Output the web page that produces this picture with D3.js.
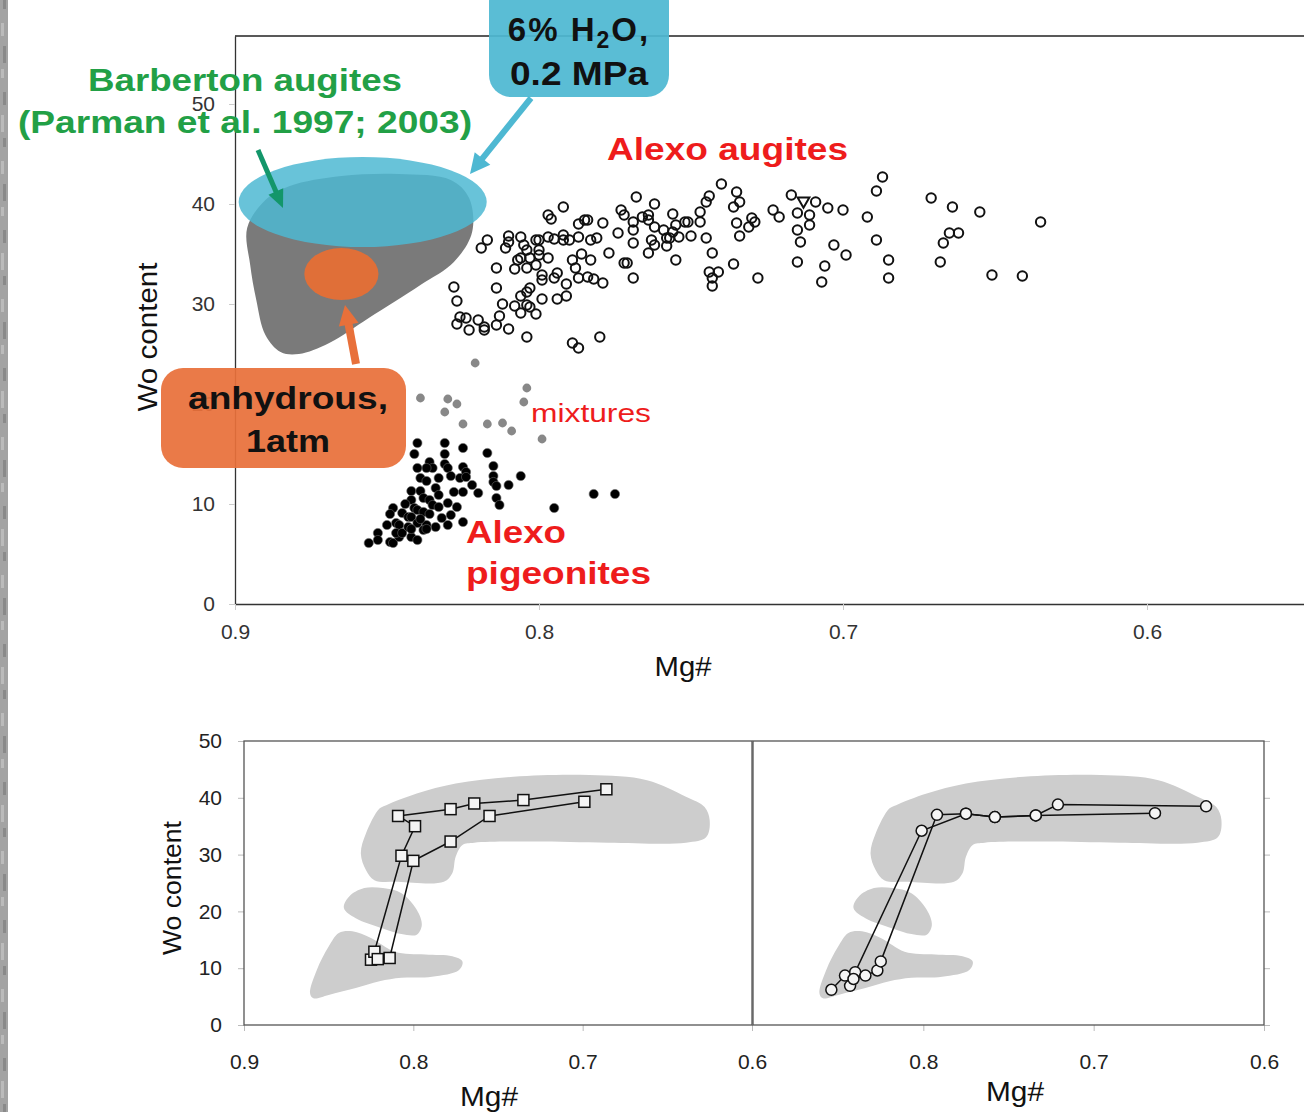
<!DOCTYPE html>
<html><head><meta charset="utf-8">
<script src="https://cdn.jsdelivr.net/npm/d3@7"></script>
<style>html,body{margin:0;padding:0;background:#fff;}svg{display:block;}</style>
</head><body>
<script>
// ---------- DATA ----------
const augites = [
[0.768,40.7],[0.792,39.7],[0.797,38.9],[0.796,38.5],[0.787,38.0],[0.785,38.4],[0.784,38.4],[0.779,38.1],[0.773,39.4],[0.772,38.9],[0.769,38.2],[0.769,37.4],[0.774,37.1],[0.769,36.1],
[0.817,36.4],[0.819,35.6],[0.810,36.8],[0.810,36.2],[0.811,35.6],[0.806,36.7],[0.805,35.9],[0.801,36.4],[0.800,36.4],[0.797,36.7],[0.795,36.5],[0.792,36.9],[0.792,36.4],[0.790,36.4],[0.787,36.7],[0.783,36.4],[0.781,36.6],
[0.804,35.4],[0.800,35.4],[0.806,34.6],[0.807,34.4],[0.803,34.6],[0.800,34.9],[0.797,34.6],[0.814,33.6],[0.808,33.5],[0.804,33.6],[0.801,33.9],[0.799,32.9],[0.799,32.4],[0.795,32.6],[0.794,33.1],[0.789,34.4],[0.786,35.0],[0.783,34.4],[0.788,33.6],[0.787,32.6],[0.784,32.7],[0.782,32.5],[0.779,32.1],[0.777,35.1],[0.771,34.1],[0.769,32.6],
[0.828,31.7],[0.814,31.6],[0.803,31.6],[0.804,31.2],[0.791,32.0],[0.827,30.3],[0.806,30.8],[0.799,30.5],[0.794,30.5],[0.791,30.8],[0.812,30.0],[0.808,29.8],[0.804,29.9],[0.803,29.7],[0.806,29.1],[0.801,29.0],[0.826,28.7],[0.824,28.6],[0.827,28.0],[0.820,28.4],[0.813,28.8],[0.823,27.4],[0.818,27.4],[0.818,27.7],[0.814,27.9],[0.810,27.5],[0.804,26.7],[0.789,26.1],[0.787,25.6],[0.780,26.7],
[0.740,42.0],[0.735,41.2],[0.734,40.2],[0.736,39.7],[0.744,40.8],[0.745,40.2],[0.747,39.2],[0.762,40.0],[0.766,38.7],[0.764,38.9],[0.764,38.4],[0.762,37.7],[0.759,37.4],[0.756,39.0],[0.755,37.9],[0.756,37.2],[0.752,38.2],[0.751,38.2],[0.747,38.2],[0.763,36.4],[0.762,35.9],[0.758,36.6],[0.758,35.8],[0.757,36.6],[0.754,36.7],[0.750,36.8],[0.745,36.6],[0.764,35.1],[0.772,34.1],[0.755,34.4],[0.743,35.1],[0.744,33.2],[0.741,33.2],[0.743,32.6],[0.743,31.8],[0.736,34.0],[0.728,32.6],[0.735,38.1],[0.734,36.8],[0.731,37.7],[0.730,38.6],[0.729,38.2],[0.723,39.4],[0.721,38.7],[0.717,40.9],[0.709,40.2],[0.715,39.1],[0.711,38.9],[0.711,37.9],[0.715,37.4],[0.714,36.2],[0.715,34.2],[0.705,39.6],[0.703,35.9],[0.706,33.8],[0.707,32.2],
[0.687,42.7],[0.689,41.3],[0.700,39.4],[0.692,38.7],[0.671,40.6],[0.689,36.4],[0.699,34.9],[0.685,34.4],[0.685,32.6],[0.668,34.2],[0.664,39.7],[0.655,39.2],[0.665,37.1],[0.662,37.1],[0.667,36.1],[0.635,38.2],[0.651,32.9],[0.641,32.8]
];
const augiteTriangles = [[0.713,40.3]];
const pigeonites = [
[0.840,16.1],[0.831,16.1],[0.825,15.6],[0.817,15.1],[0.841,15.0],[0.831,15.0],[0.836,14.2],[0.835,13.6],[0.837,13.6],[0.840,13.6],[0.831,14.0],[0.830,13.6],[0.825,13.7],[0.824,13.2],[0.815,13.8],
[0.839,12.6],[0.837,12.3],[0.833,12.6],[0.829,12.8],[0.826,12.6],[0.824,12.7],[0.815,12.8],[0.815,12.2],[0.814,11.8],[0.806,12.8],[0.810,11.9],[0.822,11.9],[0.820,11.1],[0.828,11.2],[0.825,11.2],[0.834,11.6],[0.833,10.9],
[0.842,11.3],[0.839,11.3],[0.838,10.6],[0.836,10.4],[0.835,9.9],[0.842,10.4],[0.841,9.6],[0.840,9.4],[0.838,9.2],[0.833,9.7],[0.830,10.1],[0.827,9.7],[0.814,10.6],[0.813,9.9],[0.795,9.6],[0.782,11.0],[0.775,11.0],
[0.848,9.6],[0.849,9.0],[0.845,9.1],[0.843,8.7],[0.842,8.7],[0.847,8.1],[0.846,7.9],[0.850,7.9],[0.840,8.1],[0.837,7.9],[0.834,7.7],[0.830,7.9],[0.825,8.2],
[0.853,7.1],[0.856,6.1],[0.853,6.4],[0.849,6.2],[0.848,6.1],[0.846,6.7],[0.842,6.7],[0.840,6.4],[0.847,7.1],[0.845,7.1],[0.838,7.4],[0.837,7.5],[0.843,7.7],[0.842,7.5],
[0.844,10.0],[0.836,9.0],[0.832,8.6],[0.829,8.9],[0.839,8.5]
];
const mixtures = [
[0.821,24.1],[0.839,20.6],[0.830,20.5],[0.827,20.0],[0.831,19.2],[0.825,18.0],[0.817,18.0],[0.812,18.1],[0.809,17.3],[0.804,21.6],[0.805,20.2],[0.799,16.5]
];
const barbertonField = [
[0.896,37.6],[0.890,40.4],[0.882,41.8],[0.865,42.8],[0.846,43.0],[0.829,42.4],[0.823,40.6],[0.822,37.2],[0.828,34.2],[0.839,31.9],[0.856,28.6],[0.869,26.1],[0.879,25.0],[0.885,25.2],[0.890,26.9],[0.893,30.4],[0.895,33.9]
];
// bottom panels: grey fields
const fieldUpper = [
[0.820,38.1],[0.828,33.7],[0.831,30.2],[0.828,27.3],[0.823,25.5],[0.809,25.2],[0.782,25.2],[0.777,26.7],[0.775,29.6],[0.771,31.7],[0.764,32.1],[0.730,32.3],[0.685,32.1],[0.639,32.1],[0.627,33.1],[0.625,36.1],[0.628,38.4],[0.639,40.2],[0.662,43.1],[0.696,44.0],[0.741,43.7],[0.775,42.5],[0.798,40.75],[0.816,38.7]
];
const fieldMiddle = [
[0.841,20.6],[0.838,22.6],[0.829,24.1],[0.818,24.1],[0.807,23.2],[0.798,20.3],[0.795,17.6],[0.798,15.9],[0.807,16.0],[0.818,17.0],[0.834,18.8]
];
const fieldLower = [
[0.861,5.6],[0.857,9.7],[0.850,13.8],[0.844,16.2],[0.836,16.5],[0.825,15.3],[0.811,12.9],[0.793,12.4],[0.777,12.1],[0.771,11.2],[0.773,9.7],[0.789,8.5],[0.807,8.3],[0.820,7.7],[0.834,6.5],[0.850,5.3],[0.859,4.7]
];
const leftPathA = [[0.825,11.5],[0.823,12.9],[0.807,29.8],[0.799,35.0],[0.809,36.8],[0.778,38.0],[0.764,39.0],[0.735,39.6],[0.686,41.5]];
const leftPathB = [[0.821,11.6],[0.814,11.8],[0.800,28.9],[0.778,32.3],[0.755,36.8],[0.699,39.3]];
const rightPathA = [[0.854,6.2],[0.846,8.7],[0.840,9.3],[0.801,34.2],[0.775,37.2],[0.758,36.6],[0.734,36.9],[0.664,37.3]];
const rightPathB = [[0.843,6.9],[0.841,8.1],[0.834,8.7],[0.827,9.6],[0.825,11.2],[0.792,37.0],[0.775,37.2],[0.758,36.6],[0.734,36.9],[0.721,38.8],[0.634,38.5]];
const topXTicks = [0.9,0.8,0.7,0.6];
const topYTicks = [0,10,20,30,40,50];
const botXTicksLeft = [0.9,0.8,0.7,0.6];
const botXTicksRight = [0.8,0.7,0.6];
const botYTicks = [0,10,20,30,40,50];

// ---------- DRAW ----------
const W = 1304, H = 1112;
const FONT = "'Liberation Sans', Arial, Helvetica, sans-serif";
const svg = d3.select("body").append("svg").attr("width", W).attr("height", H)
  .style("font-family", FONT);
svg.append("rect").attr("width", W).attr("height", H).attr("fill", "#fff");

// textured left strip
const strip = svg.append("g");
strip.append("rect").attr("x",0).attr("y",0).attr("width",8).attr("height",H).attr("fill","#a3a3a3");
d3.range(0, H, 23).forEach((y,i)=>{
  strip.append("rect").attr("x", i%2?1:3).attr("y", y).attr("width", 3).attr("height", 9+(i%3)*4)
    .attr("fill", i%2 ? "#c4c4c4" : "#7f7f7f").attr("opacity",0.7);
});

function txt(g, s, x, y, size, o={}) {
  const t = g.append("text").attr("x",x).attr("y",y).text(s)
    .attr("font-size", size).attr("fill", o.fill||"#222")
    .attr("font-weight", o.weight||"normal")
    .attr("text-anchor", o.anchor||"middle");
  if (o.len) t.attr("textLength", o.len).attr("lengthAdjust","spacingAndGlyphs");
  if (o.rotate) t.attr("transform", `rotate(${o.rotate},${x},${y})`);
  return t;
}
function arrow(g, x1,y1,x2,y2, w, hl, hw, color){
  const dx=x2-x1, dy=y2-y1, L=Math.hypot(dx,dy), ux=dx/L, uy=dy/L, px=-uy, py=ux;
  const bx=x2-ux*hl, by=y2-uy*hl;
  g.append("line").attr("x1",x1).attr("y1",y1).attr("x2",bx+ux*2).attr("y2",by+uy*2)
    .attr("stroke",color).attr("stroke-width",w);
  g.append("path").attr("d",`M${x2},${y2}L${bx+px*hw/2},${by+py*hw/2}L${bx-px*hw/2},${by-py*hw/2}Z`).attr("fill",color);
}

// ===== TOP CHART =====
const xT = d3.scaleLinear().domain([0.9,0.5]).range([235,1451]);
const yT = d3.scaleLinear().domain([0,56.8]).range([604,36]);
const topG = svg.append("g");

const axL = topG.append("g").attr("transform","translate(235,0)")
  .call(d3.axisLeft(yT).tickValues(topYTicks).tickSize(6).tickSizeOuter(0).tickPadding(14).tickFormat(d3.format("d")));
const axB = topG.append("g").attr("transform","translate(0,604)")
  .call(d3.axisBottom(xT).tickValues(topXTicks).tickSize(6).tickSizeOuter(0).tickPadding(14).tickFormat(d3.format(".1f")));
[axL, axB].forEach(a=>{
  a.selectAll(".tick line").attr("stroke","#ccc");
  a.selectAll(".tick text").attr("font-size",21).attr("fill","#333").attr("font-family",FONT);
  a.select(".domain").attr("stroke","#333").attr("stroke-width",1.3);
});
topG.append("line").attr("x1",235).attr("x2",1304).attr("y1",36).attr("y2",36).attr("stroke","#222").attr("stroke-width",1.3);

txt(topG,"Wo content",157,337,27,{rotate:-90,len:149,fill:"#111"});
txt(topG,"Mg#",683,676,27,{len:57,fill:"#111"});

// points
topG.append("g").selectAll("circle").data(mixtures).join("circle")
  .attr("cx",d=>xT(d[0])).attr("cy",d=>yT(d[1])).attr("r",4.4).attr("fill","#888");
topG.append("g").selectAll("circle").data(pigeonites).join("circle")
  .attr("cx",d=>xT(d[0])).attr("cy",d=>yT(d[1])).attr("r",4.6).attr("fill","#000")
  .attr("stroke","#666").attr("stroke-width",0.6);
topG.append("g").selectAll("circle").data(augites).join("circle")
  .attr("cx",d=>xT(d[0])).attr("cy",d=>yT(d[1])).attr("r",4.7).attr("fill","none")
  .attr("stroke","#111").attr("stroke-width",2);
topG.append("g").selectAll("path").data(augiteTriangles).join("path")
  .attr("transform",d=>`translate(${xT(d[0])},${yT(d[1])}) rotate(180)`)
  .attr("d", d3.symbol(d3.symbolTriangle, 60)).attr("fill","none").attr("stroke","#111").attr("stroke-width",2);

// Barberton field + ellipses
const closedCurve = d3.line().x(d=>xT(d[0])).y(d=>yT(d[1])).curve(d3.curveCatmullRomClosed.alpha(0.5));
topG.append("path").attr("d", closedCurve(barbertonField)).attr("fill","#7a7a7a");
topG.append("ellipse").attr("cx",xT(0.858)).attr("cy",yT(40.2))
  .attr("rx",xT(0.858)-xT(0.8988)).attr("ry",yT(35.7)-yT(40.2)).attr("fill","#4eb8d2").attr("opacity",0.85);
topG.append("ellipse").attr("cx",xT(0.865)).attr("cy",yT(33.0))
  .attr("rx",xT(0.865)-xT(0.8772)).attr("ry",yT(30.4)-yT(33.0)).attr("fill","#e46e35").attr("opacity",0.96);

// arrows
arrow(topG, 531,98, 470,174, 6, 20, 20, "#4eb8d2");
arrow(topG, 258,150, 283,208, 5, 18, 16, "#13966a");
arrow(topG, 356,364, 345,305, 8, 20, 20, "#e8703a");

// boxes
topG.append("rect").attr("x",489).attr("y",-20).attr("width",180).attr("height",117).attr("rx",22)
  .attr("fill","#4eb8d2").attr("opacity",0.93);
topG.append("rect").attr("x",161).attr("y",368).attr("width",245).attr("height",100).attr("rx",22)
  .attr("fill","#e8703a").attr("opacity",0.93);

// annotation texts
const h2o = topG.append("text").attr("x",579).attr("y",41).attr("text-anchor","middle")
  .attr("font-size",33).attr("font-weight","bold").attr("fill","#111").attr("letter-spacing",2);
h2o.append("tspan").text("6% H");
h2o.append("tspan").text("2").attr("font-size",23).attr("dy",7);
h2o.append("tspan").text("O,").attr("dy",-7);
txt(topG,"0.2 MPa",579,85,33,{weight:"bold",fill:"#111",len:138});
txt(topG,"anhydrous,",288,409,31,{weight:"bold",fill:"#111",len:200});
txt(topG,"1atm",288,452,31,{weight:"bold",fill:"#111",len:84});
txt(topG,"Barberton augites",245,91,31,{weight:"bold",fill:"#22a046",len:314});
txt(topG,"(Parman et al. 1997; 2003)",245,133,31,{weight:"bold",fill:"#22a046",len:454});
txt(topG,"Alexo augites",607,160,31,{weight:"bold",fill:"#ee1c1c",anchor:"start",len:241});
txt(topG,"mixtures",531,422,26,{fill:"#ee1c1c",anchor:"start",len:120});
txt(topG,"Alexo",466,543,32,{weight:"bold",fill:"#ee1c1c",anchor:"start",len:100});
txt(topG,"pigeonites",466,584,32,{weight:"bold",fill:"#ee1c1c",anchor:"start",len:185});

// ===== BOTTOM PANELS =====
const yB = d3.scaleLinear().domain([0,50]).range([1025,741]);
const xBL = d3.scaleLinear().domain([0.9,0.6]).range([244,752]);
const xBR = d3.scaleLinear().domain([0.9,0.6]).range([753,1264]);

function panel(xs, pathA, pathB, marker, xticks, leftAxis, rightTicks){
  const g = svg.append("g");
  const fl = d3.line().x(d=>xs(d[0])).y(d=>yB(d[1])).curve(d3.curveCatmullRomClosed.alpha(0.5));
  [fieldUpper, fieldMiddle, fieldLower].forEach(f=>g.append("path").attr("d",fl(f)).attr("fill","#cdcdcd"));
  const ax = g.append("g").attr("transform","translate(0,1025)")
    .call(d3.axisBottom(xs).tickValues(xticks).tickSize(6).tickSizeOuter(0).tickPadding(23).tickFormat(d3.format(".1f")));
  ax.select(".domain").remove();
  ax.selectAll(".tick line").attr("stroke","#bbb");
  ax.selectAll(".tick text").attr("font-size",21).attr("fill","#222").attr("font-family",FONT);
  if (leftAxis){
    const ay = g.append("g").attr("transform",`translate(${xs.range()[0]},0)`)
      .call(d3.axisLeft(yB).tickValues(botYTicks).tickSize(6).tickSizeOuter(0).tickPadding(16).tickFormat(d3.format("d")));
    ay.select(".domain").remove();
    ay.selectAll(".tick line").attr("stroke","#bbb");
    ay.selectAll(".tick text").attr("font-size",21).attr("fill","#222").attr("font-family",FONT);
  }
  if (rightTicks){
    const ar = g.append("g").attr("transform",`translate(${xs.range()[1]},0)`)
      .call(d3.axisRight(yB).tickValues(botYTicks).tickSize(6).tickSizeOuter(0).tickFormat(""));
    ar.select(".domain").remove();
    ar.selectAll(".tick line").attr("stroke","#bbb");
  }
  const [x0,x1] = xs.range();
  g.append("rect").attr("x",x0).attr("y",741).attr("width",x1-x0).attr("height",284)
    .attr("fill","none").attr("stroke","#555").attr("stroke-width",1.3);
  const ln = d3.line().x(d=>xs(d[0])).y(d=>yB(d[1]));
  [pathA, pathB].forEach(p=>g.append("path").attr("d",ln(p)).attr("fill","none").attr("stroke","#111").attr("stroke-width",1.5));
  const pts = pathA.concat(pathB);
  if (marker==="square"){
    g.append("g").selectAll("rect").data(pts).join("rect")
      .attr("x",d=>xs(d[0])-5.5).attr("y",d=>yB(d[1])-5.5).attr("width",11).attr("height",11)
      .attr("fill","#f4f4f4").attr("stroke","#111").attr("stroke-width",1.5);
  } else {
    g.append("g").selectAll("circle").data(pts).join("circle")
      .attr("cx",d=>xs(d[0])).attr("cy",d=>yB(d[1])).attr("r",5.5)
      .attr("fill","#f4f4f4").attr("stroke","#111").attr("stroke-width",1.5);
  }
  return g;
}
panel(xBL, leftPathA, leftPathB, "square", botXTicksLeft, true, false);
panel(xBR, rightPathA, rightPathB, "circle", botXTicksRight, false, true);
txt(svg,"Wo content",181,888,26,{rotate:-90,len:134,fill:"#111"});
txt(svg,"Mg#",489,1106,27,{len:58,fill:"#111"});
txt(svg,"Mg#",1015,1101,27,{len:58,fill:"#111"});
</script>
</body></html>
